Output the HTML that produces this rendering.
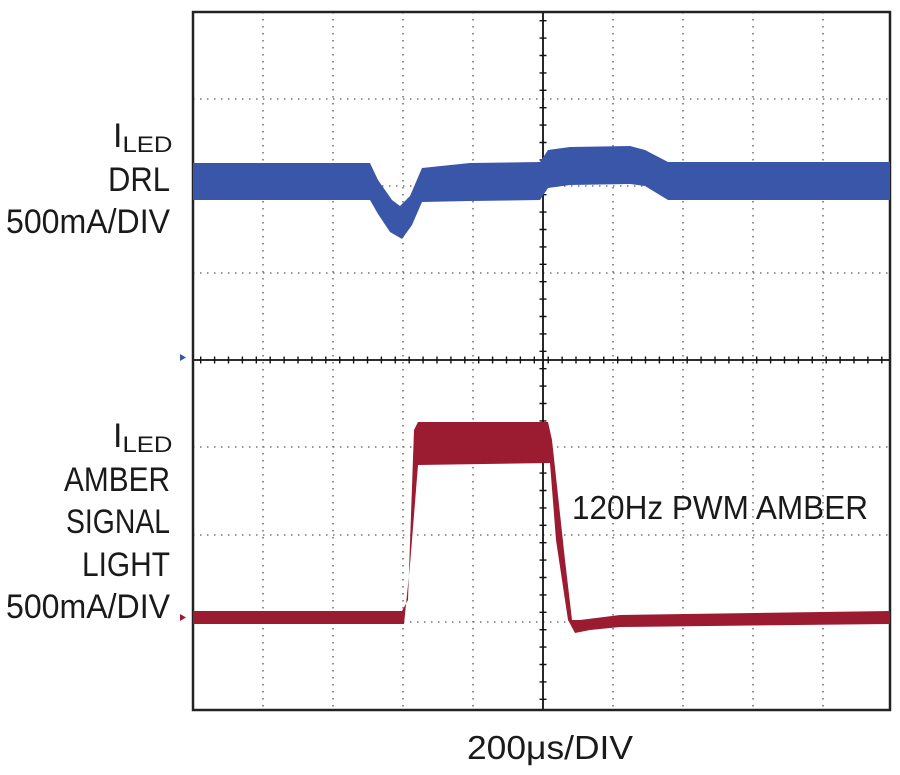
<!DOCTYPE html>
<html><head><meta charset="utf-8"><style>
html,body{margin:0;padding:0;background:#fff;}
svg{display:block;}
text{font-family:"Liberation Sans",sans-serif;fill:#1a1a1a;}
</style></head><body>
<svg width="900" height="775" viewBox="0 0 900 775" xmlns="http://www.w3.org/2000/svg">
<g stroke="#777" stroke-width="1.6" stroke-dasharray="1.5 5.5">
<line x1="263" y1="12" x2="263" y2="710"/><line x1="333" y1="12" x2="333" y2="710"/>
<line x1="403" y1="12" x2="403" y2="710"/><line x1="473" y1="12" x2="473" y2="710"/>
<line x1="613" y1="12" x2="613" y2="710"/><line x1="683" y1="12" x2="683" y2="710"/>
<line x1="753" y1="12" x2="753" y2="710"/><line x1="823" y1="12" x2="823" y2="710"/>
<line x1="193" y1="99" x2="890" y2="99"/><line x1="193" y1="186" x2="890" y2="186"/>
<line x1="193" y1="273" x2="890" y2="273"/><line x1="193" y1="447" x2="890" y2="447"/>
<line x1="193" y1="535" x2="890" y2="535"/><line x1="193" y1="622" x2="890" y2="622"/>
</g>
<g stroke="#111" stroke-width="1.8">
<line x1="543" y1="12" x2="543" y2="710"/><line x1="193" y1="360" x2="890" y2="360"/>
</g>
<g stroke="#111" stroke-width="1.4">
<line x1="543" y1="12" x2="543" y2="710" stroke-width="7" stroke-dasharray="1.4 16" stroke-dashoffset="-8"/>
<line x1="193" y1="360" x2="890" y2="360" stroke-width="7" stroke-dasharray="1.4 12.5" stroke-dashoffset="-7"/>
</g>
<rect x="193" y="12" width="697" height="698" fill="none" stroke="#222" stroke-width="2.5"/>
<polygon fill="#3a56a8" points="193,163 370,163 378,180 392,200 400,206 410,196 422,168 470,163 540,162 548,150 570,147 630,146 645,150 668,162 890,162 890,200 668,200 645,186 630,184 570,185 548,188 540,200 470,201 422,202 412,225 402,239 390,232 378,214 370,200 193,200"/>
<polygon fill="#9b1b30" points="193,611 402,611 408,600 414,430 418,422 548,422 552,440 565,560 572,620 580,620 620,615 890,611 890,624 620,627 590,630 575,633 568,620 556,540 550,463 418,465 410,565 404,624 193,624"/>
<polygon fill="#3a56a8" points="180,354 186,357.5 180,361"/>
<polygon fill="#9b1b30" points="180,614 186,617.5 180,621"/>
<g font-size="34" text-anchor="end">
<text x="113" y="147" text-anchor="start">I<tspan font-size="22" dy="5" textLength="50" lengthAdjust="spacingAndGlyphs">LED</tspan></text>
<text x="170" y="191" textLength="62" lengthAdjust="spacingAndGlyphs">DRL</text>
<text x="170" y="233" textLength="164" lengthAdjust="spacingAndGlyphs">500mA/DIV</text>
<text x="113" y="447" text-anchor="start">I<tspan font-size="22" dy="5" textLength="50" lengthAdjust="spacingAndGlyphs">LED</tspan></text>
<text x="170" y="491" textLength="106" lengthAdjust="spacingAndGlyphs">AMBER</text>
<text x="170" y="533" textLength="104" lengthAdjust="spacingAndGlyphs">SIGNAL</text>
<text x="170" y="576" textLength="88" lengthAdjust="spacingAndGlyphs">LIGHT</text>
<text x="170" y="618" textLength="164" lengthAdjust="spacingAndGlyphs">500mA/DIV</text>
</g>
<text x="572" y="519" font-size="33" textLength="296" lengthAdjust="spacingAndGlyphs">120Hz PWM AMBER</text>
<text x="467" y="759" font-size="33" textLength="166" lengthAdjust="spacingAndGlyphs">200μs/DIV</text>
</svg>
</body></html>
